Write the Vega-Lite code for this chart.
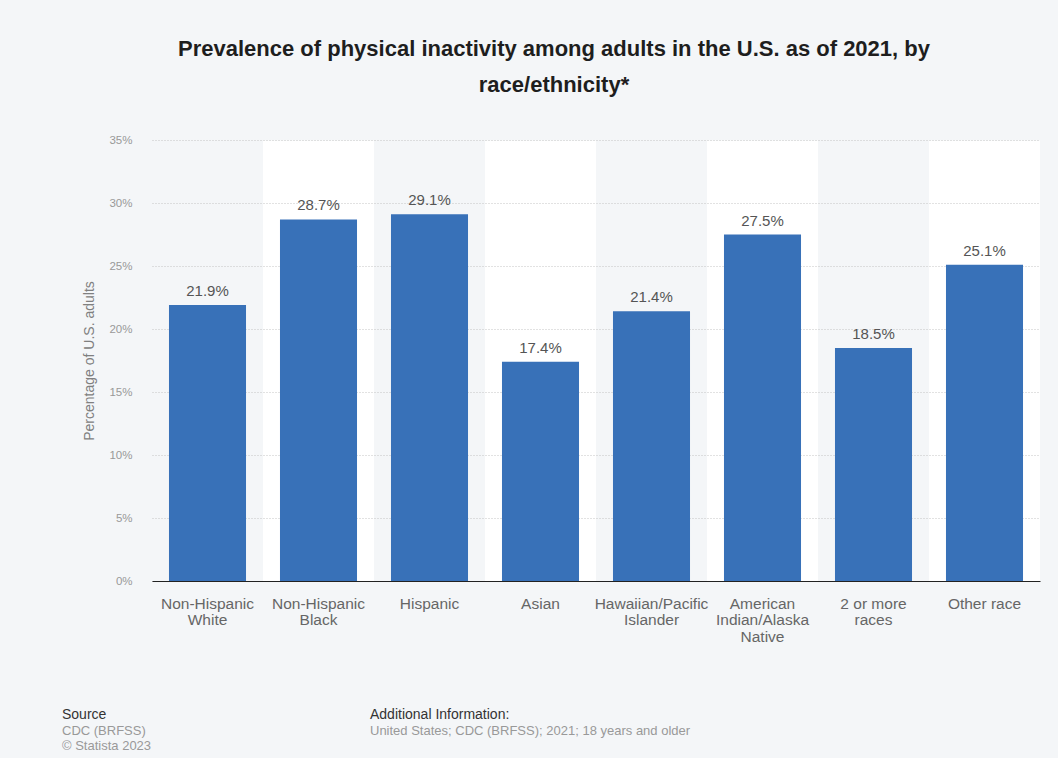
{
  "$schema": "https://vega.github.io/schema/vega-lite/v6.json",
  "background": "#f4f6f8",
  "padding": {"left": 62, "top": 38, "right": 18, "bottom": 5},
  "config": {
    "font": "Liberation Sans",
    "view": {"stroke": null},
    "concat": {"spacing": 63}
  },
  "vconcat": [
    {
      "title": {
        "text": ["Prevalence of physical inactivity among adults in the U.S. as of 2021, by", "race/ethnicity*"],
        "fontSize": 22,
        "fontWeight": "bold",
        "color": "#1e1e1e",
        "lineHeight": 36,
        "anchor": "middle",
        "dx": -42,
        "offset": 37
      },
      "width": 888,
      "height": 441,
      "data": {
        "values": [
          {"category": "Non-Hispanic White", "value": 0.219},
          {"category": "Non-Hispanic Black", "value": 0.287},
          {"category": "Hispanic", "value": 0.291},
          {"category": "Asian", "value": 0.174},
          {"category": "Hawaiian/Pacific Islander", "value": 0.214},
          {"category": "American Indian/Alaska Native", "value": 0.275},
          {"category": "2 or more races", "value": 0.185},
          {"category": "Other race", "value": 0.251}
        ]
      },
      "encoding": {
        "x": {
          "field": "category",
          "type": "nominal",
          "sort": null,
          "scale": {"paddingInner": 0.306, "paddingOuter": 0.153},
          "axis": {
            "title": null,
            "labelAngle": 0,
            "ticks": false,
            "domain": true,
            "domainColor": "#222222",
            "domainWidth": 1.2,
            "labelPadding": 15,
            "labelFontSize": 15.5,
            "labelColor": "#666666",
            "labelLineHeight": 16.5,
            "labelBaseline": "top",
            "grid": true,
            "bandPosition": 0.5,
            "gridWidth": 111,
            "gridColor": {
              "condition": {
                "test": "indexof(['Non-Hispanic Black', 'Asian', 'American Indian/Alaska Native', 'Other race'], datum.value) >= 0",
                "value": "#ffffff"
              },
              "value": "#f4f6f8"
            },
            "gridOpacity": 1,
            "labelExpr": "datum.value == 'Non-Hispanic White' ? ['Non-Hispanic', 'White'] : datum.value == 'Non-Hispanic Black' ? ['Non-Hispanic', 'Black'] : datum.value == 'Hawaiian/Pacific Islander' ? ['Hawaiian/Pacific', 'Islander'] : datum.value == 'American Indian/Alaska Native' ? ['American', 'Indian/Alaska', 'Native'] : datum.value == '2 or more races' ? ['2 or more', 'races'] : datum.value"
          }
        },
        "y": {
          "field": "value",
          "type": "quantitative",
          "scale": {"domain": [0, 0.35], "nice": false},
          "axis": {
            "title": "Percentage of U.S. adults",
            "titleColor": "#808080",
            "titleFontSize": 14,
            "titleFontWeight": "normal",
            "titlePadding": 12,
            "values": [0, 0.05, 0.1, 0.15, 0.2, 0.25, 0.3, 0.35],
            "format": ".0%",
            "ticks": false,
            "domain": false,
            "labelPadding": 20,
            "labelFontSize": 11.5,
            "labelColor": "#999999",
            "grid": true,
            "gridColor": "#c4c4c4",
            "gridDash": [1, 2],
            "gridWidth": 1
          }
        }
      },
      "layer": [
        {"mark": {"type": "bar", "color": "#3871b8"}},
        {
          "mark": {"type": "text", "baseline": "alphabetic", "dy": -9, "fontSize": 15, "color": "#555555"},
          "encoding": {"text": {"field": "value", "type": "quantitative", "format": ".1%"}}
        }
      ]
    },
    {
      "width": 888,
      "height": 40,
      "data": {
        "values": [
          {"block": "Source", "line": 0, "text": "Source"},
          {"block": "Source", "line": 1, "text": "CDC (BRFSS)"},
          {"block": "Source", "line": 2, "text": "© Statista 2023"},
          {"block": "Additional Information", "line": 0, "text": "Additional Information:"},
          {"block": "Additional Information", "line": 1, "text": "United States; CDC (BRFSS); 2021; 18 years and older"}
        ]
      },
      "mark": {"type": "text", "align": "left", "baseline": "middle"},
      "encoding": {
        "x": {"field": "block", "type": "nominal", "scale": {"type": "point", "padding": 0, "domain": ["Source", "Additional Information"], "range": [-90, 218]}, "axis": null},
        "y": {"field": "line", "type": "ordinal", "scale": {"type": "point", "padding": 0, "range": [6, 37]}, "axis": null},
        "text": {"field": "text"},
        "color": {"condition": {"test": "datum.line == 0", "value": "#333333"}, "value": "#999999"},
        "size": {"condition": {"test": "datum.line == 0", "value": 14}, "value": 13}
      }
    }
  ]
}
